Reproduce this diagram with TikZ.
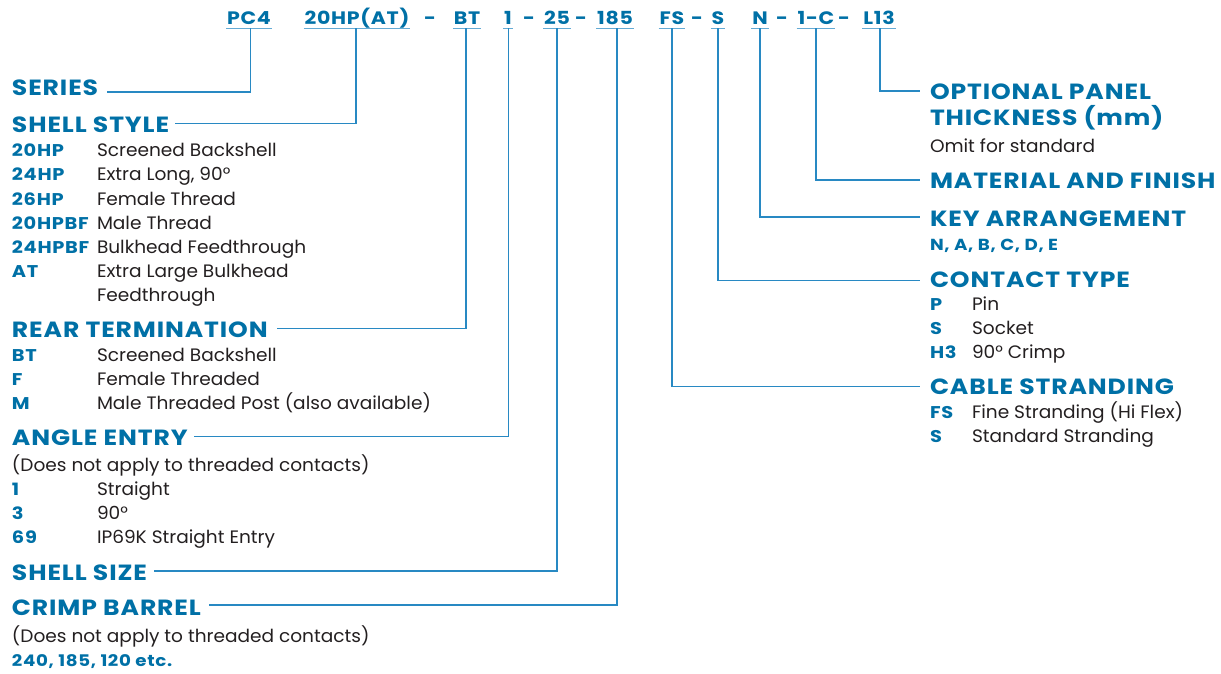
\documentclass[tikz,border=0pt]{standalone}
\usepackage{fontspec}
\setmainfont{Poppins}[FakeStretch=1.03]
\newfontfamily\hf{Poppins}[FakeStretch=1.14,LetterSpace=4]
\definecolor{tblue}{RGB}{0,112,166}
\definecolor{lblue}{RGB}{40,137,195}
\definecolor{ulblue}{RGB}{100,170,212}
\definecolor{ink}{RGB}{35,31,32}
\begin{document}
\begin{tikzpicture}[x=1pt,y=-1pt,
  every node/.style={inner sep=0pt,outer sep=0pt},
  head/.style={anchor=base west, font=\hf\fontsize{22}{22}\selectfont\bfseries, text=tblue},
  code/.style={anchor=base, font=\hf\fontsize{18}{18}\selectfont\bfseries, text=tblue},
  key/.style={anchor=base west, font=\hf\fontsize{17}{17}\selectfont\bfseries, text=tblue},
  keysm/.style={anchor=base west, font=\hf\fontsize{16}{16}\selectfont\bfseries, text=tblue},
  desc/.style={anchor=base west, font=\fontsize{18}{18}\selectfont, text=ink},
  conn/.style={draw=lblue, line width=1.4pt},
  uline/.style={draw=ulblue, line width=1.3pt}]
\useasboundingbox (0,0) rectangle (1221,674);

% header codes
\node[code] (pc4) at (249,25) {PC4};
\node[code] (sty) at (357,25) {20HP(AT)};
\node[code] (d1) at (430,25) {-};
\node[code] (bt) at (467,25) {BT};
\node[code] (one) at (508,25) {1};
\node[code] (d2) at (529,25) {-};
\node[code] (sz) at (557,25) {25};
\node[code] (d3) at (581,25) {-};
\node[code] (crb) at (615,25) {185};
\node[code] (fs) at (672,25) {FS};
\node[code] (d4) at (697,25) {-};
\node[code] (cs) at (718,25) {S};
\node[code] (kn) at (760,25) {N};
\node[code] (d5) at (782,25) {-};
\node[code] (mat) at (816,25) {1-C};
\node[code] (d6) at (844,25) {-};
\node[code] (lt) at (879,25) {L13};

\foreach \n in {pc4,sty,bt,one,sz,crb,fs,cs,kn,mat,lt}
  \draw[uline] ([xshift=-1pt,yshift=-3.5pt]\n.base west) -- ([xshift=1pt,yshift=-3.5pt]\n.base east);

% left side
\node[head] (series) at (12,96) {SERIES};
\node[head] (shell) at (12,133) {SHELL STYLE};
\foreach \c/\d/\y [count=\i] in {20HP/Screened Backshell/157, 24HP/{Extra Long, 90°}/181, 26HP/Female Thread/205, 20HPBF/Male Thread/229, 24HPBF/Bulkhead Feedthrough/253, AT/Extra Large Bulkhead/277}{
  \node[key] (ssc\i) at (12,\y) {\c};
  \node[desc] (ssd\i) at (97,\y) {\d};
}
\node[desc] (ssd7) at (97,301) {Feedthrough};

\node[head] (rear) at (12,337) {REAR TERMINATION};
\foreach \c/\d/\y [count=\i] in {BT/Screened Backshell/361, F/Female Threaded/385, M/Male Threaded Post (also available)/409}{
  \node[key] (rtc\i) at (12,\y) {\c};
  \node[desc] (rtd\i) at (97,\y) {\d};
}

\node[head] (angle) at (12,445) {ANGLE ENTRY};
\node[desc] (anote) at (12,471) {(Does not apply to threaded contacts)};
\foreach \c/\d/\y [count=\i] in {1/Straight/495, 3/90°/519, 69/IP69K Straight Entry/543}{
  \node[key] (aec\i) at (12,\y) {\c};
  \node[desc] (aed\i) at (97,\y) {\d};
}

\node[head] (ssize) at (12,580) {SHELL SIZE};
\node[head] (crimp) at (12,615) {CRIMP BARREL};
\node[desc] (cnote) at (12,642) {(Does not apply to threaded contacts)};
\node[keysm] (cval) at (12,666) {240, 185, 120 etc.};

% right side
\node[head] (opt1) at (930,100) {OPTIONAL PANEL};
\node[head] (opt2) at (930,126) {THICKNESS (mm)};
\node[desc] (omit) at (930,153) {Omit for standard};
\node[head] (matf) at (930,189) {MATERIAL AND FINISH};
\node[head] (keya) at (930,226) {KEY ARRANGEMENT};
\node[keysm] (keyl) at (930,250) {N, A, B, C, D, E};
\node[head] (ctype) at (930,287) {CONTACT TYPE};
\foreach \c/\d/\y [count=\i] in {P/Pin/310, S/Socket/334, H3/90° Crimp/358}{
  \node[key] (ctc\i) at (930,\y) {\c};
  \node[desc] (ctd\i) at (972,\y) {\d};
}
\node[head] (cabl) at (930,394) {CABLE STRANDING};
\foreach \c/\d/\y [count=\i] in {FS/Fine Stranding (Hi Flex)/418, S/Standard Stranding/442}{
  \node[key] (csc\i) at (930,\y) {\c};
  \node[desc] (csd\i) at (972,\y) {\d};
}

% connectors
\draw[conn] ([xshift=1.5pt,yshift=-3.5pt]pc4.base) |- ([xshift=9pt,yshift=4pt]series.base east);
\draw[conn] ([xshift=-1pt,yshift=-3.5pt]sty.base) |- ([xshift=6pt,yshift=9.5pt]shell.base east);
\draw[conn] ([xshift=-1pt,yshift=-3.5pt]bt.base) |- ([xshift=9pt,yshift=8.3pt]rear.base east);
\draw[conn] ([xshift=0.5pt,yshift=-3.5pt]one.base) |- ([xshift=6pt,yshift=8.3pt]angle.base east);
\draw[conn] ([yshift=-3.5pt]sz.base) |- ([xshift=7pt,yshift=9pt]ssize.base east);
\draw[conn] ([xshift=2pt,yshift=-3.5pt]crb.base) |- ([xshift=8pt,yshift=10pt]crimp.base east);
\draw[conn] ([yshift=-3.5pt]fs.base) |- ([xshift=-10pt,yshift=7.5pt]cabl.base west);
\draw[conn] ([yshift=-3.5pt]cs.base) |- ([xshift=-10pt,yshift=6.5pt]ctype.base west);
\draw[conn] ([yshift=-3.5pt]kn.base) |- ([xshift=-10pt,yshift=9pt]keya.base west);
\draw[conn] ([yshift=-3.5pt]mat.base) |- ([xshift=-10pt,yshift=9pt]matf.base west);
\draw[conn] ([xshift=1pt,yshift=-3.5pt]lt.base) |- ([xshift=-10pt,yshift=9pt]opt1.base west);
\end{tikzpicture}
\end{document}
